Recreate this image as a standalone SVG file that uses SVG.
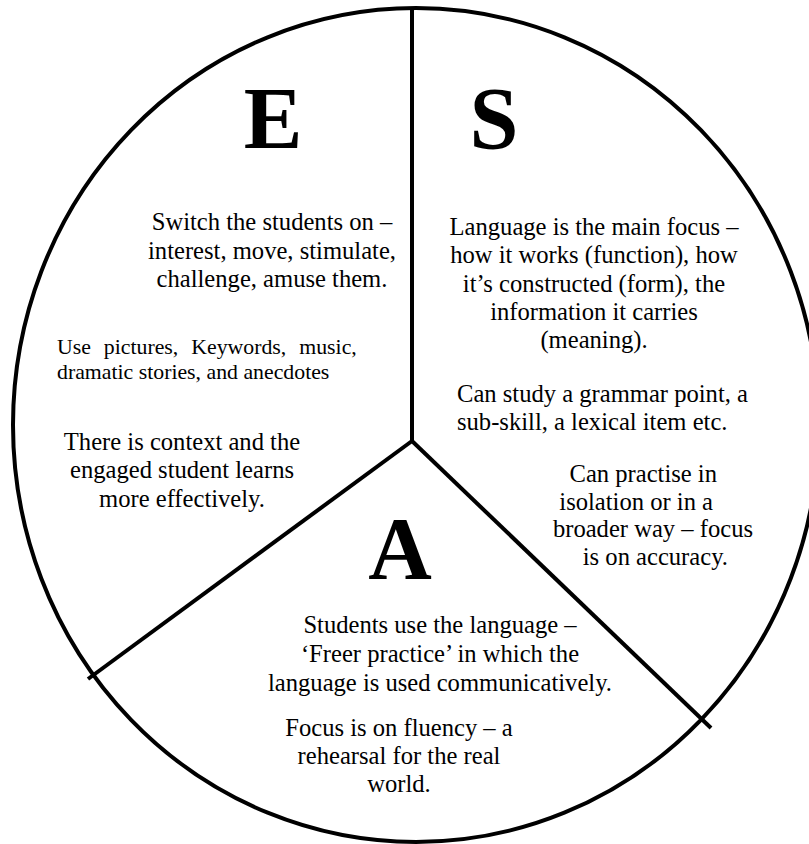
<svg xmlns="http://www.w3.org/2000/svg" width="809" height="844" viewBox="0 0 809 844">
<style>
.t{font-family:"Liberation Serif","Times New Roman",serif;font-size:24.6px;fill:#000;text-anchor:middle}
.e{text-anchor:end}
.l{text-anchor:start}
.s{font-family:"Liberation Serif","Times New Roman",serif;font-size:21.8px;fill:#000}
.big{font-family:"Liberation Serif","Times New Roman",serif;font-size:88px;font-weight:bold;fill:#000;text-anchor:middle}
.ln{stroke:#000;stroke-width:4;fill:none}
</style>
<rect width="809" height="844" fill="#fff"/>
<g id="circle"><ellipse class="ln" cx="416" cy="425" rx="403" ry="417"/></g>
<g id="connectors">
<line class="ln" x1="412" y1="8" x2="412" y2="441"/>
<line class="ln" x1="412" y1="441" x2="88" y2="679"/>
<line class="ln" x1="412" y1="441" x2="711" y2="728"/>
</g>
<g id="engage">
<text class="big" x="273" y="148">E</text>
<text class="t" x="272" y="230">Switch the students on –</text>
<text class="t" x="272" y="259">interest, move, stimulate,</text>
<text class="t" x="272" y="287">challenge, amuse them.</text>
<text class="s" x="57" y="354" word-spacing="7.5">Use pictures, Keywords, music,</text>
<text class="s" x="57" y="379">dramatic stories, and anecdotes</text>
<text class="t" x="182" y="450">There is context and the</text>
<text class="t" x="182" y="478">engaged student learns</text>
<text class="t" x="182" y="507">more effectively.</text>
</g>
<g id="study">
<text class="big" x="494" y="148">S</text>
<text class="t" x="594" y="235">Language is the main focus –</text>
<text class="t" x="594" y="263">how it works (function), how</text>
<text class="t" x="594" y="292">it’s constructed (form), the</text>
<text class="t" x="594" y="320">information it carries</text>
<text class="t" x="594" y="348">(meaning).</text>
<text class="t l" x="457" y="402">Can study a grammar point, a</text>
<text class="t l" x="457" y="430">sub-skill, a lexical item etc.</text>
<text class="t e" x="717" y="482">Can practise in</text>
<text class="t e" x="713" y="510">isolation or in a</text>
<text class="t e" x="753" y="537">broader way – focus</text>
<text class="t e" x="728" y="565">is on accuracy.</text>
</g>
<g id="activate">
<text class="big" x="400" y="578">A</text>
<text class="t" x="440" y="633">Students use the language –</text>
<text class="t" x="440" y="662">‘Freer practice’ in which the</text>
<text class="t" x="440" y="691">language is used communicatively.</text>
<text class="t" x="399" y="736">Focus is on fluency – a</text>
<text class="t" x="399" y="764">rehearsal for the real</text>
<text class="t" x="399" y="792">world.</text>
</g>
</svg>
